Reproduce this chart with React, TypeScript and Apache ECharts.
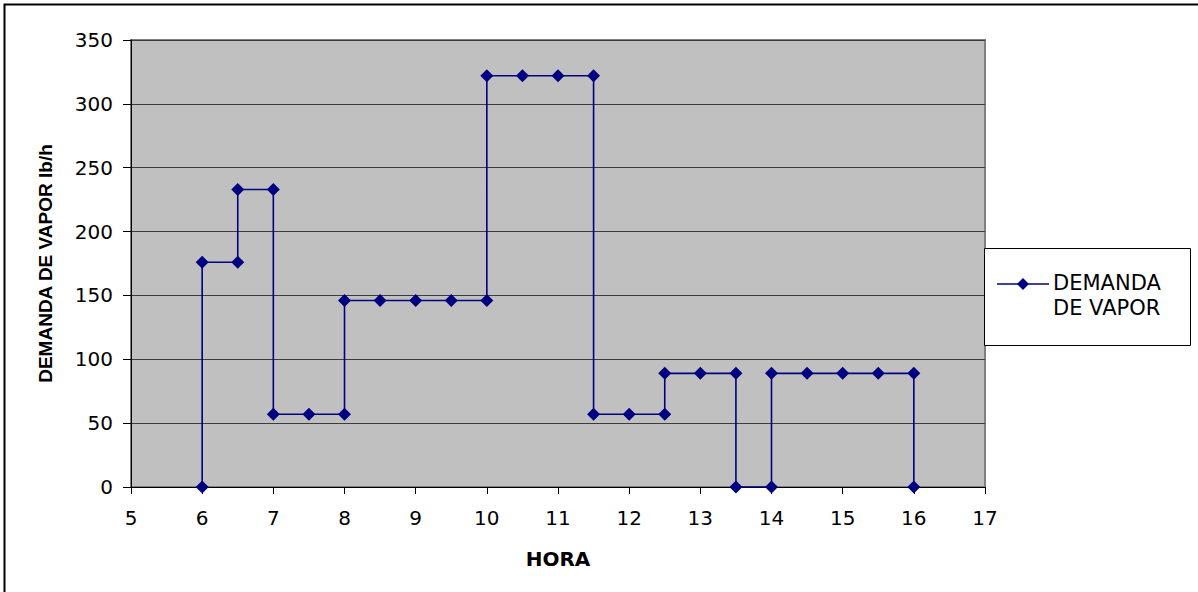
import React, { useEffect, useRef } from "react";
import * as echarts from "echarts";

const hours = [6, 6, 6.5, 6.5, 7, 7, 7.5, 8, 8, 8.5, 9, 9.5, 10, 10, 10.5, 11, 11.5, 11.5, 12, 12.5, 12.5, 13, 13.5, 13.5, 14, 14, 14.5, 15, 15.5, 16, 16];
const demanda = [0, 176, 176, 233, 233, 57, 57, 57, 146, 146, 146, 146, 146, 322, 322, 322, 322, 57, 57, 57, 89, 89, 89, 0, 0, 89, 89, 89, 89, 89, 0];
const seriesName = "DEMANDA DE VAPOR";
const legendLines = ["DEMANDA", "DE VAPOR"];
const xTitle = "HORA";
const yTitle = "DEMANDA DE VAPOR lb/h";

export default function App() {
  const ref = useRef<HTMLDivElement>(null);
  useEffect(() => {
    document.body.style.margin = "0";
    const chart = echarts.init(ref.current!, null, { renderer: "svg" });
    const labelFont = "'DejaVu Sans', sans-serif";
    const arial = "Arial, 'Liberation Sans', sans-serif";
    chart.setOption({
      animation: false,
      backgroundColor: "#ffffff",
      grid: { left: 131, right: 213, top: 40, height: 447, show: true, backgroundColor: "#c0c0c0", borderColor: "#808080", borderWidth: 2 },
      xAxis: {
        type: "value", min: 5, max: 17, interval: 1,
        name: xTitle, nameLocation: "middle", nameGap: 62,
        nameTextStyle: { fontFamily: labelFont, fontSize: 20, fontWeight: "bold", color: "#000" },
        axisLine: { show: true, onZero: false, lineStyle: { color: "#000", width: 1 } },
        axisTick: { show: true, length: 7, lineStyle: { color: "#000" } },
        axisLabel: { fontFamily: labelFont, fontSize: 20, color: "#000", margin: 21 },
        splitLine: { show: false },
      },
      yAxis: {
        type: "value", min: 0, max: 350, interval: 50,
        name: yTitle, nameLocation: "middle", nameGap: 76,
        nameTextStyle: { fontFamily: arial, fontSize: 19, fontWeight: "bold", color: "#000" },
        axisLine: { show: true, lineStyle: { color: "#000", width: 1 } },
        axisTick: { show: true, length: 8, lineStyle: { color: "#000" } },
        axisLabel: { fontFamily: labelFont, fontSize: 20, color: "#000", margin: 18 },
        splitLine: { show: true, lineStyle: { color: "#3c3c3c", width: 1 } },
      },
      series: [
        {
          name: seriesName,
          type: "line",
          data: hours.map((h, i) => [h, demanda[i]]),
          symbol: "diamond",
          symbolSize: 13,
          itemStyle: { color: "#000080" },
          lineStyle: { color: "#000080", width: 1.6 },
        },
      ],
      graphic: [
        { type: "rect", shape: { x: 4.5, y: 4.5, width: 1300, height: 700 }, style: { fill: "none", stroke: "#000", lineWidth: 2 }, z: -10, silent: true },
        { type: "rect", shape: { x: 984.5, y: 248.5, width: 206, height: 97 }, style: { fill: "#fff", stroke: "#000", lineWidth: 1 }, z: 10 },
        { type: "line", shape: { x1: 997, y1: 284, x2: 1049, y2: 284 }, style: { stroke: "#000080", lineWidth: 1.6 }, z: 11 },
        { type: "polygon", shape: { points: [[1023, 278], [1029, 284], [1023, 290], [1017, 284]] }, style: { fill: "#000080" }, z: 11 },
        { type: "text", x: 1053, y: 283, style: { text: legendLines[0], font: `21px ${labelFont}`, fill: "#000", verticalAlign: "middle" }, z: 11 },
        { type: "text", x: 1053, y: 308, style: { text: legendLines[1], font: `21px ${labelFont}`, fill: "#000", verticalAlign: "middle" }, z: 11 },
      ],
    });
    return () => chart.dispose();
  }, []);
  return <div ref={ref} style={{ width: 1198, height: 592 }} />;
}
